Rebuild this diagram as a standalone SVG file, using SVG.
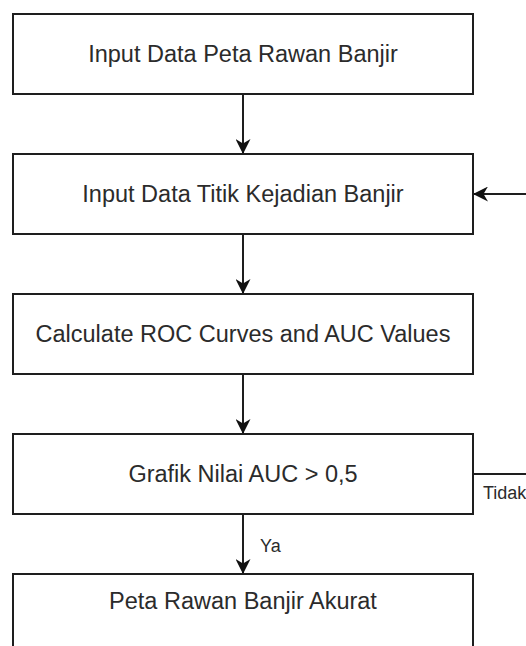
<svg xmlns="http://www.w3.org/2000/svg" width="526" height="646" viewBox="0 0 526 646">
  <defs>
    <style>
      .box { fill: #ffffff; stroke: #1e1e1e; stroke-width: 2; }
      .lbl { font-family: "Liberation Sans", Arial, sans-serif; font-size: 23.5px; fill: #2b2b2b; text-anchor: middle; }
      .elbl { font-family: "Liberation Sans", Arial, sans-serif; font-size: 18px; fill: #2b2b2b; }
      .edge { fill: none; stroke: #1e1e1e; stroke-width: 2; }
      .arr { marker-end: url(#head); }
    </style>
    <marker id="head" viewBox="0 0 15 15" refX="15" refY="7.5" markerWidth="15" markerHeight="15" markerUnits="userSpaceOnUse" orient="auto">
      <path d="M15,7.5 L0,0 L4.5,7.5 L0,15 Z" fill="#111111"/>
    </marker>
  </defs>
  <rect width="526" height="646" fill="#ffffff"/>

  <g id="connectors">
    <path class="edge arr" d="M243,94 L243,154"/>
    <path class="edge arr" d="M243,234 L243,294"/>
    <path class="edge arr" d="M243,374 L243,434"/>
    <path class="edge arr" d="M243,514 L243,574"/>
    <path class="edge" d="M473,474 L528,474"/>
    <path class="edge arr" d="M528,194 L473,194"/>
    <text class="elbl" x="260" y="552">Ya</text>
    <text class="elbl" x="483" y="499">Tidak</text>
  </g>

  <g id="node-input-peta">
    <rect class="box" x="13" y="14" width="460" height="80"/>
    <text class="lbl" x="243" y="62">Input Data Peta Rawan Banjir</text>
  </g>
  <g id="node-input-titik">
    <rect class="box" x="13" y="154" width="460" height="80"/>
    <text class="lbl" x="243" y="202">Input Data Titik Kejadian Banjir</text>
  </g>
  <g id="node-calculate">
    <rect class="box" x="13" y="294" width="460" height="80"/>
    <text class="lbl" x="243" y="342">Calculate ROC Curves and AUC Values</text>
  </g>
  <g id="node-grafik">
    <rect class="box" x="13" y="434" width="460" height="80"/>
    <text class="lbl" x="243" y="482">Grafik Nilai AUC &gt; 0,5</text>
  </g>
  <g id="node-akurat">
    <rect class="box" x="13" y="574" width="460" height="90"/>
    <text class="lbl" x="243" y="609">Peta Rawan Banjir Akurat</text>
  </g>
</svg>
